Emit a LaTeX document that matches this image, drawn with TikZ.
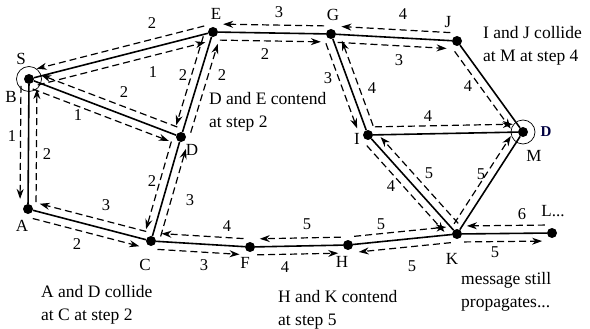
\documentclass[tikz,border=0pt]{standalone}
\usepackage{fontspec}
\setmainfont{Liberation Serif}
\usetikzlibrary{calc,arrows.meta}
% dashed arrow parallel to an edge; #1 = signed offset (positive: right of travel)
\newcommand\parr[3][8pt]{%
  \draw[da] ($(#2)!7pt!(#3)!#1!-90:(#3)$) -- ($(#3)!10pt!(#2)!#1!90:(#2)$);}
\begin{document}
\begin{tikzpicture}[x=1pt,y=-1pt,
  vtx/.style={circle,fill=black,inner sep=0pt,minimum size=10pt},
  edge/.style={line width=1.6pt},
  da/.style={dash pattern=on 7pt off 4pt,line width=1.2pt,-{Stealth[length=10pt,width=7pt]}},
  num/.style={font=\fontsize{16.5}{18}\selectfont,inner sep=0pt},
  lab/.style={font=\fontsize{17}{18}\selectfont,inner sep=0pt},
  note/.style={font=\fontsize{17.5}{23.5}\selectfont,align=left,anchor=west,inner sep=0pt},
  ring/.style={draw,line width=0.7pt},
]
\useasboundingbox (0,0) rectangle (590,329);
% vertices
\node[vtx] (B) at (29,79) {};
\node[vtx] (E) at (213,32) {};
\node[vtx] (G) at (331,34) {};
\node[vtx] (J) at (457,41) {};
\node[vtx] (D) at (181,137) {};
\node[vtx] (I) at (368,135) {};
\node[vtx] (M) at (523,132) {};
\node[vtx] (A) at (28,209) {};
\node[vtx] (C) at (151,241) {};
\node[vtx] (F) at (250,247) {};
\node[vtx] (H) at (348,245) {};
\node[vtx] (K) at (457,234) {};
\node[vtx] (L) at (552,233) {};
\node[ring,circle,minimum size=25pt,inner sep=0pt] (Bring) at (B) {};
\node[ring,circle,minimum size=24pt,inner sep=0pt] (Mring) at (M) {};
% edges
\draw[edge] (B) -- (E);
\draw[edge] (B) -- (D);
\draw[edge] (E) -- (D);
\draw[edge] (B) -- (A);
\draw[edge] (A) -- (C);
\draw[edge] (D) -- (C);
\draw[edge] (C) -- (F);
\draw[edge] (F) -- (H);
\draw[edge] (H) -- (K);
\draw[edge] (K) -- (L);
\draw[edge] (E) -- (G);
\draw[edge] (G) -- (J);
\draw[edge] (G) -- (I);
\draw[edge] (J) -- (M);
\draw[edge] (I) -- (M);
\draw[edge] (I) -- (K);
\draw[edge] (K) -- (M);
% message arrows
\parr{E}{B} \parr{B}{E}
\parr{D}{B} \parr{B}{D}
\parr{E}{D} \parr{D}{E}
\parr{B}{A} \parr{A}{B}
\parr{C}{A} \parr{A}{C}
\parr{D}{C} \parr{C}{D}
\parr{F}{C} \parr{C}{F}
\parr{H}{F} \parr{F}{H}
\parr[-8pt]{H}{K} \parr[-8pt]{K}{H}
\parr{L}{K} \parr{K}{L}
\parr{G}{E} \parr{E}{G}
\parr{J}{G} \parr{G}{J}
\parr{G}{I} \parr{I}{G}
\parr{J}{M}
\parr[-8pt]{I}{M}
\parr{I}{K} \parr{K}{I}
\parr[-8pt]{K}{M}
% vertex labels
\node[lab] (tS) at (21,59) {S};
\node[lab] (tB) at (11,97) {B};
\node[lab] (tE) at (216,14) {E};
\node[lab] (tG) at (333,15) {G};
\node[lab] (tJ) at (448,22) {J};
\node[lab] (tD) at (192,150) {D};
\node[lab] (tI) at (357,139) {I};
\node[lab,font=\fontsize{15}{18}\selectfont\bfseries,text=blue!25!black] (tDM) at (546,132) {D};
\node[lab] (tM) at (534,156) {M};
\node[lab] (tA) at (22,226) {A};
\node[lab] (tC) at (145,265) {C};
\node[lab] (tF) at (245,263) {F};
\node[lab] (tH) at (342,262) {H};
\node[lab] (tK) at (452,259) {K};
\node[lab] (tL) at (553,211) {L...};
% step numbers
\node[num] (n1) at (152,23) {2};
\node[num] (n2) at (153,72) {1};
\node[num] (n3) at (124,92) {2};
\node[num] (n4) at (78,115) {1};
\node[num] (n5) at (183,75) {2};
\node[num] (n6) at (222,75) {2};
\node[num] (n7) at (12,136) {1};
\node[num] (n8) at (47,154) {2};
\node[num] (n9) at (106,205) {3};
\node[num] (n10) at (77,244) {2};
\node[num] (n11) at (152,181) {2};
\node[num] (n12) at (190,200) {3};
\node[num] (n13) at (227,226) {4};
\node[num] (n14) at (204,265) {3};
\node[num] (n15) at (307,224) {5};
\node[num] (n16) at (285,267) {4};
\node[num] (n17) at (381,224) {5};
\node[num] (n18) at (412,266) {5};
\node[num] (n19) at (522,214) {6};
\node[num] (n20) at (495,252) {5};
\node[num] (n21) at (279,12) {3};
\node[num] (n22) at (265,54) {2};
\node[num] (n23) at (403,14) {4};
\node[num] (n24) at (399,60) {3};
\node[num] (n25) at (328,78) {3};
\node[num] (n26) at (372,88) {4};
\node[num] (n27) at (468,86) {4};
\node[num] (n28) at (428,116) {4};
\node[num] (n29) at (391,186) {4};
\node[num] (n30) at (429,173) {5};
\node[num] (n31) at (481,174) {5};
% notes
\node[note] (c1) at (209,112) {D and E contend\\at step 2};
\node[note] (c2) at (483,46) {I and J collide\\at M at step 4};
\node[note] (c3) at (41,305) {A and D collide\\at C at step 2};
\node[note] (c4) at (278,310) {H and K contend\\at step 5};
\node[note] (c5) at (461,292) {message still\\propagates...};
\end{tikzpicture}
\end{document}
